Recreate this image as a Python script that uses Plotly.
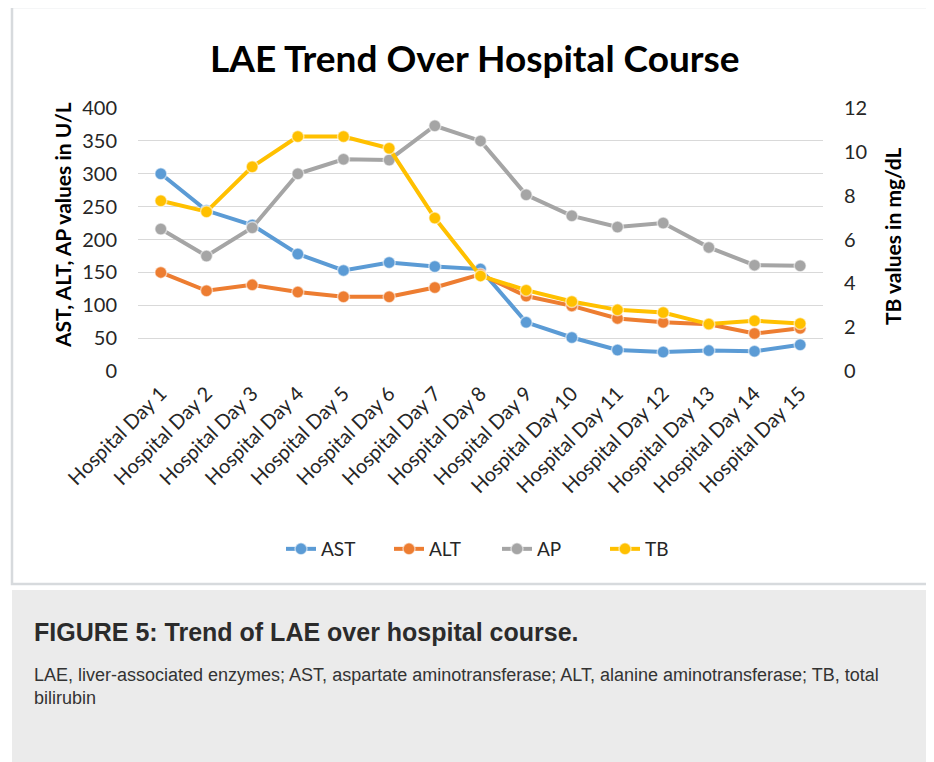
import plotly.graph_objects as go

days = [f"Hospital Day {i}" for i in range(1, 16)]
ast = [300, 244, 222, 178, 153, 165, 159, 155, 74, 51, 32, 29, 31, 30, 40]
alt = [150, 122, 131, 120, 113, 113, 127, 147, 114, 99, 80, 74, 71, 57, 65]
ap = [216, 175, 218, 300, 322, 321, 373, 350, 268, 236, 219, 225, 188, 161, 160]
tb = [7.77, 7.27, 9.32, 10.7, 10.7, 10.16, 6.98, 4.34, 3.69, 3.17, 2.79, 2.67, 2.14, 2.29, 2.17]

left_ticks = [0, 50, 100, 150, 200, 250, 300, 350, 400]
right_ticks = [0, 2, 4, 6, 8, 10, 12]

OFF = 8  # page body margin
SW, SH = 934, 762
W, H = SW - OFF, SH - OFF
PL, PR, PT, PB = 138, 823, 108, 371  # plot area in screen pixels


def px(x):
    return (x - PL) / (PR - PL)


def py(y):
    return (PB - y) / (PB - PT)


FONT = "Lato"
TXT = "#262626"

fig = go.Figure()
series = [("AST", ast, "#5B9BD5", "y"), ("ALT", alt, "#ED7D31", "y"),
          ("AP", ap, "#A5A5A5", "y"), ("TB", tb, "#FFC000", "y2")]
for name, vals, col, ax in series:
    fig.add_trace(go.Scatter(
        x=days, y=vals, name=name, yaxis=ax, mode="lines+markers",
        line=dict(color=col, width=4),
        marker=dict(size=12, color=col, line=dict(color="rgba(255,255,255,0.55)", width=1.5)),
    ))

fig.update_layout(
    width=W, height=H,
    margin=dict(l=PL - OFF, r=SW - PR, t=PT - OFF, b=(OFF + H) - PB, pad=0, autoexpand=False),
    paper_bgcolor="white", plot_bgcolor="white",
    font=dict(family=FONT, color=TXT),
    showlegend=True,
    legend=dict(orientation="h", x=px(497), xanchor="center", y=py(549), yanchor="middle",
                font=dict(size=19, family=FONT, color=TXT), bgcolor="rgba(0,0,0,0)",
                entrywidth=63, entrywidthmode="pixels", tracegroupgap=0),
    xaxis=dict(type="category", range=[-0.5, 14.5], tickangle=-45, showgrid=False, showline=False,
               zeroline=False, ticks="", tickfont=dict(size=20, family=FONT, color=TXT),
               ticklabelstandoff=6),
    yaxis=dict(range=[0, 400], tickvals=left_ticks, showgrid=True, gridcolor="#d9d9d9", gridwidth=1,
               zeroline=False, showline=False, ticks="", ticklabelstandoff=20,
               tickfont=dict(size=20, family=FONT, color=TXT)),
    yaxis2=dict(range=[0, 12], tickvals=right_ticks, overlaying="y", side="right", showgrid=False,
                zeroline=False, showline=False, ticks="", ticklabelstandoff=20,
                tickfont=dict(size=20, family=FONT, color=TXT)),
    shapes=[
        dict(type="rect", xref="paper", yref="paper", layer="below",
             x0=px(12), x1=px(950), y0=py(584), y1=py(7),
             line=dict(color="#d7dadd", width=2.5), fillcolor="white"),
        dict(type="rect", xref="paper", yref="paper", layer="below",
             x0=px(12), x1=px(950), y0=py(790), y1=py(590),
             line=dict(width=0), fillcolor="#ebebeb"),
    ],
    annotations=[
        dict(text="<b>LAE Trend Over Hospital Course</b>", xref="paper", yref="paper",
             x=px(475), y=py(58), xanchor="center", yanchor="middle", showarrow=False,
             font=dict(size=37, family=FONT, color="#000000")),
        dict(text="<b>AST, ALT, AP values in U/L</b>", xref="paper", yref="paper",
             x=px(62), y=py(225), xanchor="center", yanchor="middle", showarrow=False, textangle=-90,
             font=dict(size=21, family=FONT, color="#000000")),
        dict(text="<b>TB values in mg/dL</b>", xref="paper", yref="paper",
             x=px(892), y=py(236), xanchor="center", yanchor="middle", showarrow=False, textangle=-90,
             font=dict(size=21, family=FONT, color="#000000")),
        dict(text="<b>FIGURE 5: Trend of LAE over hospital course.</b>", xref="paper", yref="paper",
             x=px(32), y=py(632), xanchor="left", yanchor="middle", showarrow=False,
             font=dict(size=25, family="Liberation Sans", color="#2b2b2b")),
        dict(text="LAE, liver-associated enzymes; AST, aspartate aminotransferase; ALT, alanine aminotransferase; TB, total",
             xref="paper", yref="paper",
             x=px(32), y=py(675), xanchor="left", yanchor="middle", showarrow=False,
             font=dict(size=18, family="Liberation Sans", color="#333333")),
        dict(text="bilirubin", xref="paper", yref="paper",
             x=px(32), y=py(698), xanchor="left", yanchor="middle", showarrow=False,
             font=dict(size=18, family="Liberation Sans", color="#333333")),
    ],
)

fig.write_html("out.html")
